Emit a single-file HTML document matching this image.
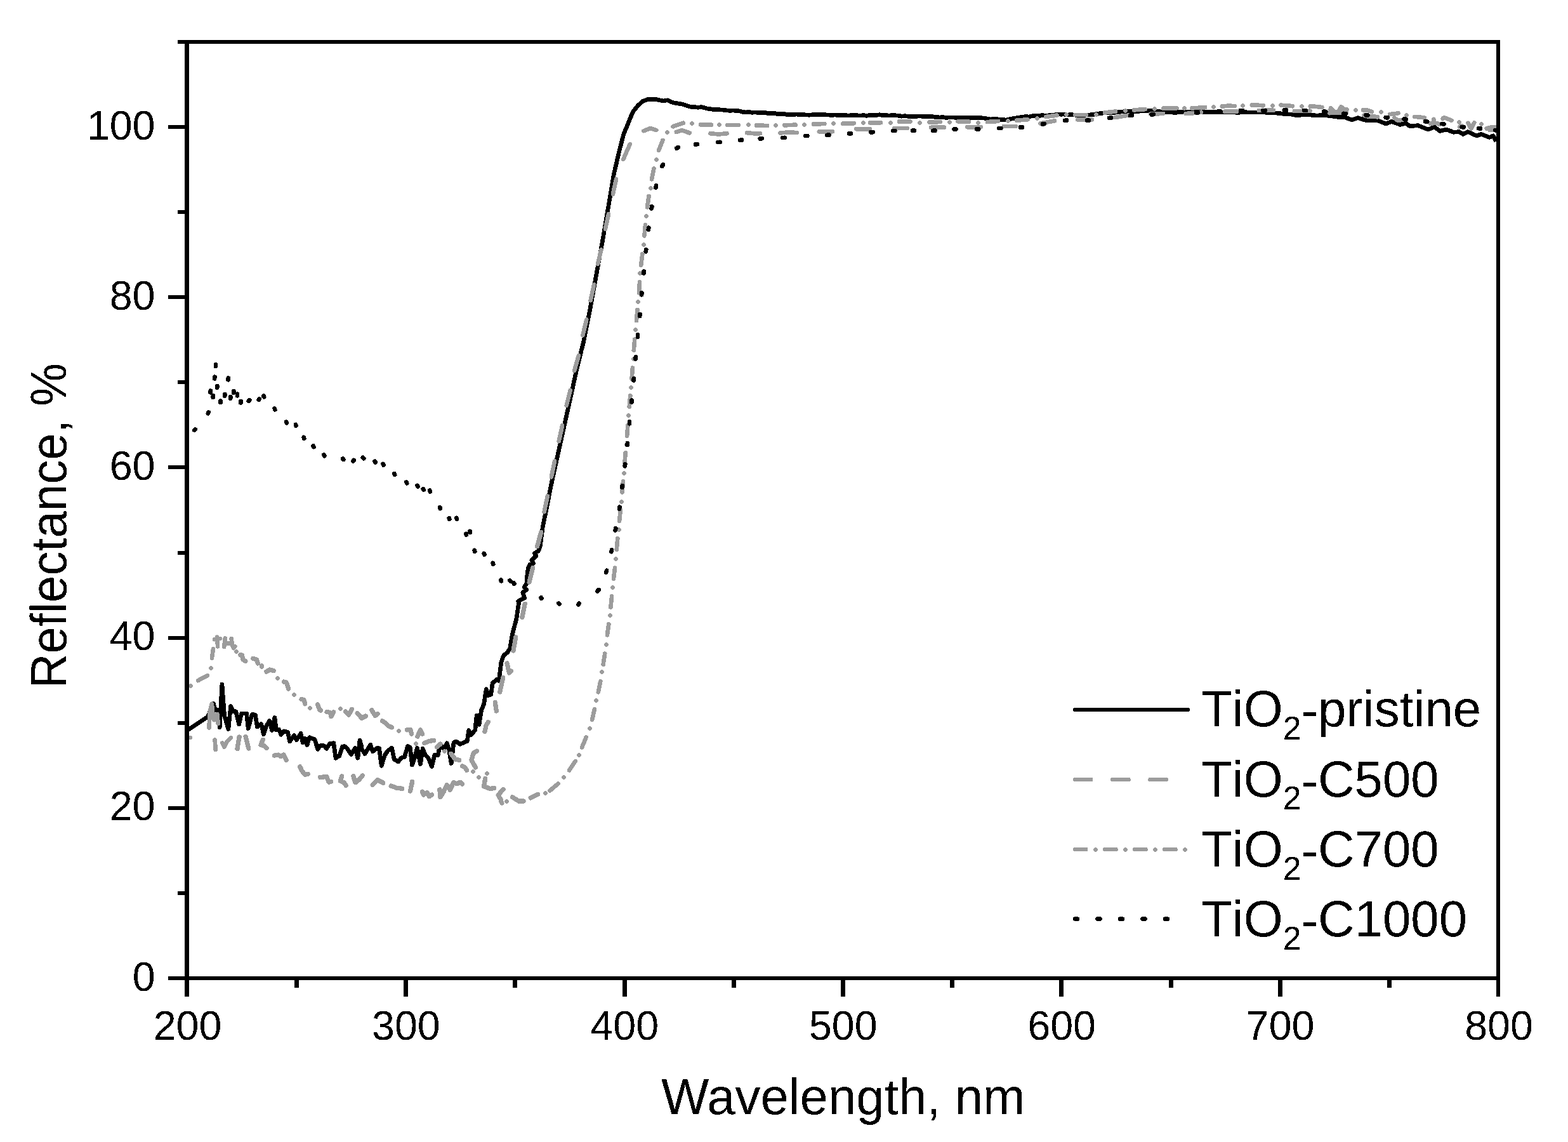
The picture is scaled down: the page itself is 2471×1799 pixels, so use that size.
<!DOCTYPE html>
<html lang="en"><head><meta charset="utf-8"><title>Reflectance spectra of TiO2 samples</title>
<style>html,body{margin:0;padding:0;background:#fff}svg{display:block}text{font-family:'Liberation Sans', Arial, Helvetica, sans-serif;fill:#000;font-kerning:none}</style></head><body>
<svg width="2471" height="1799" viewBox="0 0 2471 1799" role="img" aria-label="Reflectance spectra">
<rect x="0" y="0" width="2471" height="1799" fill="#fff"/>
<defs><filter id="bw" x="-5%" y="-20%" width="110%" height="140%" color-interpolation-filters="sRGB"><feComponentTransfer><feFuncA type="discrete" tableValues="0 1"/></feComponentTransfer></filter><clipPath id="plot"><rect x="298" y="69" width="2066" height="1469"/></clipPath></defs>
<!-- TiO2-pristine -->
<polyline shape-rendering="crispEdges" points="294.4,1151.1 298.1,1148.6 327.4,1129.2 331.2,1119.9 336.2,1108 339.3,1118.9 343,1118.1 344.9,1122.4 346.2,1145.5 349.9,1078.1 353.6,1127.3 359.9,1148.6 363.6,1112.4 368,1120.9 371.7,1120.8 376.7,1141.1 380.5,1124.2 388.6,1123.9 391.1,1147.4 397.3,1125.4 402.3,1126.1 405.4,1144.9 411.7,1140.5 415.4,1156.7 419.8,1143.6 424.8,1135.5 428.5,1150.5 432.9,1130.5 435.4,1150.1 439.7,1149.3 442.9,1157.3 447.2,1151.8 453.5,1153.5 456.6,1167.9 463.4,1158.6 467.2,1165.5 474,1155.4 477.2,1169.8 480.9,1163.6 484,1173.6 487.8,1161.7 495.9,1164.8 500.9,1180.4 504.6,1174.8 510.9,1174.8 514.6,1179.2 519.6,1171.6 525.8,1170.6 529,1194.2 534.6,1191 539.6,1176 543.3,1175.7 547,1179.1 553.3,1188.5 559.5,1178.5 563.9,1194.2 567,1166.1 570.1,1177.3 570,1180 575,1187.5 583.8,1173.2 587.5,1183.8 593.8,1178.8 597.5,1178.8 601.2,1206.3 606.2,1190 611.2,1182.5 617.5,1178.2 621.2,1196.2 627.5,1200 632.5,1193.8 637.5,1192.5 642.5,1175.4 646.2,1177.5 649.5,1205 653.8,1192.5 657.5,1178.2 662.5,1203.8 666.2,1179.4 670,1188.8 675,1193.8 680.5,1207.5 685,1189.2 690,1190.1 693.8,1173.2 700,1180 704.2,1170.7 707.5,1180 711.2,1202.5 715,1170 718.8,1167.9 725,1172.5 732.5,1168.8 736.2,1167.5 738.8,1150.7 742.5,1157.5 748.8,1150 751.2,1126.9 755,1141.3 758.8,1117.5 762.5,1110 766.2,1085.7 770,1095.5 773.8,1093.8 776.2,1076.2 782.5,1070.7 786.2,1072.5 790,1042.5 793.8,1032.5 800,1027.5 803.8,1021.2 807.5,998.8 813.8,975 817.5,950 816.6,947.1 826.6,942.1 823.8,933.3 829.8,929.2 826.1,925.2 829.8,918.9 830.7,907.7 832.3,895.1 834.8,889.5 840.4,887.4 837.9,882.6 845.1,875.7 842.4,871.6 848.2,868.2 851.1,861.3 853.3,845 855.1,831.3 860,807 870,757 880,712 890,667 900,622 908.8,582 916.2,552 920,537 930,486.5 940,431.5 950.5,374 959,324 967.5,274 976.2,236.5 982.8,211.5 990,194 997.2,176.5 1005,166.5 1013,159.5 1020,156.8 1032.5,156.2 1045,159 1052.5,157.8 1060,161.5 1075,164.1 1080,165.8 1085,167.4 1090,168.5 1095.1,168.7 1100.1,169.2 1105.1,168.6 1110.1,169.7 1115.1,171.2 1120.1,171.8 1125.1,172.5 1130.1,172.2 1135.2,172.9 1140.2,173.2 1145.2,173.9 1150.2,174.3 1155.2,174 1160.2,174.5 1165.2,174.9 1170.3,176.3 1175.3,176.9 1180.3,176.5 1185.3,177.3 1190.3,176.9 1195.3,177.6 1200.3,177.4 1205.4,177.4 1210.4,178.6 1215.4,178.3 1220.4,178.4 1225.4,179.5 1230.4,179.8 1235.4,179.5 1240.4,180.5 1245.5,180.4 1250.5,180.5 1255.5,180 1260.5,180.7 1265.5,180.6 1270.5,181 1275.5,181.2 1280.6,180.7 1285.6,180.8 1290.6,180.8 1295.6,180.8 1300.6,180.8 1305.6,181 1310.6,181.5 1315.6,180.9 1320.7,181.6 1325.7,181.4 1330.7,181.4 1335.7,182 1340.7,181.8 1345.7,181.6 1350.7,181.8 1355.8,182.1 1360.8,181.5 1365.8,182.4 1370.8,181.3 1375.8,181.6 1380.8,181.5 1385.8,180.7 1390.9,181.7 1395.9,181.6 1400.9,182 1405.9,181.7 1410.9,181.8 1415.9,182.2 1420.9,183.2 1425.9,182.6 1431,183.2 1436,183.6 1441,183.7 1446,183.1 1451,183.1 1456,183.3 1461,183.7 1466.1,183.1 1471.1,184 1476.1,184.5 1481.1,185 1486.1,184.4 1491.1,185.6 1496.1,184.9 1501.1,185 1506.2,185.3 1511.2,185.7 1516.2,185.2 1521.2,185.8 1526.2,185.7 1531.2,185.5 1536.2,185.6 1541.3,185.6 1546.3,185.7 1551.3,186.1 1556.3,187.1 1561.3,187.9 1566.3,187.4 1571.3,187.5 1576.4,188.8 1581.4,188.8 1586.4,188.9 1591.4,187.6 1596.4,186.7 1601.4,185.8 1606.4,184.9 1611.4,184.4 1616.5,183.5 1621.5,184 1626.5,182.8 1631.5,182.7 1636.5,182.8 1641.5,181.7 1646.5,181.9 1651.6,181.9 1656.6,181.2 1661.6,181 1666.6,179.9 1671.6,180.2 1676.6,180.1 1681.6,181 1686.6,180.7 1691.7,180.9 1696.7,181.5 1701.7,181.5 1706.7,181.6 1711.7,181.1 1716.7,181 1721.7,180.6 1726.8,179.8 1731.8,178.9 1736.8,178.3 1741.8,177.3 1746.8,177.2 1751.8,177.6 1756.8,177.3 1761.9,176.6 1766.9,176.1 1771.9,175.7 1776.9,175.2 1781.9,175.2 1786.9,175.6 1791.9,175.7 1796.9,174.9 1802,175.1 1807,174.9 1812,174.5 1817,174.2 1834,176.5 1866.5,176.2 1900,176.6 1912.5,176.3 1925,177.1 1937.6,176.6 1950.1,177.3 1962.6,176.8 1975.1,177.1 1987.7,176.6 2000.2,177.6 2012.7,178.2 2025.2,179.6 2035.2,180.1 2044,181.8 2054,180.6 2062.8,180.8 2075.3,182.1 2084,181.3 2096.5,182.6 2109,184.5 2120.3,185.1 2130.3,188.9 2140.3,185.7 2154.1,190.1 2171.7,190.1 2184.2,195.1 2192.9,191.4 2206.7,196.4 2215.5,193.9 2221.7,198.9 2234.3,197.6 2250.5,203.9 2260.6,200.1 2269.3,206.4 2279.3,203.9 2290.6,208.3 2299.4,207.6 2305.6,211.4 2313.2,207.6 2326.9,213.9 2334.4,211.4 2347,216.4 2353.2,213.9 2357.6,222.7" fill="none" stroke="#000" stroke-width="6.7" stroke-linejoin="round" stroke-linecap="butt" clip-path="url(#plot)"/>
<g shape-rendering="crispEdges" fill="none" stroke="#9c9c9c" stroke-width="6.7" stroke-linecap="round" stroke-linejoin="round" clip-path="url(#plot)">
<!-- TiO2-C500 -->
<polyline points="298.9,1162.1 299.8,1161.9"/>
<polyline points="329.6,1146.5 330.5,1122.6 333.8,1108.7 335.8,1128.9 337.1,1134.2 342.1,1133.6 342.4,1125.1 343.6,1139.7"/>
<polyline points="338.7,1165.6 339.6,1180.8"/>
<polyline points="350.3,1170.5 353.4,1176.6 357.4,1168.5 364,1162.2"/>
<polyline points="377.1,1161.1 375.5,1169.8 374,1179.7" stroke-width="7.3"/>
<polyline points="387,1160.4 389.8,1171 391.8,1179.1" stroke-width="7.3"/>
<polyline points="414.3,1165.4 411,1173.5 416,1174.8 420.1,1178.6" stroke-width="7.3"/>
<polyline points="432.3,1190.1 438.5,1189.1 442.2,1191.6 447.2,1189.1 451,1197.3" stroke-width="7.3"/>
<polyline points="472.7,1207.8 475.9,1214.7 480.9,1220.3 485.3,1219.3" stroke-width="7.3"/>
<polyline points="504.7,1224.5 514.6,1223.4 518.3,1232.2 521.5,1231.3" stroke-width="7.3"/>
<polyline points="538.6,1222.8 536.4,1230.3 542.1,1232.8 545.1,1237.3" stroke-width="7.3"/>
<polyline points="556.8,1222.8 560.1,1232.8 565.8,1228.4 571.2,1221.9" stroke-width="7.3"/>
<polyline points="587.2,1236.6 595,1228.8 603.8,1233.2" stroke-width="7.3"/>
<polyline points="616.2,1238 625,1241.2 633.7,1242.3" stroke-width="7.3"/>
<polyline points="649.7,1231.3 646.5,1246.2" stroke-width="7.3"/>
<polyline points="665.5,1247.1 667.3,1252.1 672.8,1248.4 676.6,1254.6 680.7,1252.1" stroke-width="7.3"/>
<polyline points="692.9,1243.9 694,1255.6 699,1247.4 704.3,1236.4 709.3,1244.6 714.6,1232.7 720.2,1234.7 725.2,1232.2 728.3,1235" stroke-width="7.3"/>
<polyline points="749.4,1208.9 743,1197.5 746.2,1186.2 751.4,1183.2" stroke-width="7.3"/>
<polyline points="764,1152.5 766.2,1142.5 769.3,1137.4" stroke-width="7.3"/>
<polyline points="780.2,1106.3 782.3,1120" stroke-width="7.3"/>
<polyline points="787.8,1090 792.7,1067.5" stroke-width="7.3"/>
<polyline points="799,1045 802.5,1060 805.3,1057.2" stroke-width="7.3"/>
<polyline points="809,1025 812.8,1003.8" stroke-width="7.3"/>
<polyline points="822.8,972.5 827.2,951.3" stroke-width="7.3"/>
<polyline points="834.1,917 839.7,894.5" stroke-width="7.3"/>
<polyline points="846.6,860.7 852.7,838.3" stroke-width="7.3"/>
<polyline points="857.7,806.2 862.8,781.5"/>
<polyline points="868.9,751.2 874.1,726.5"/>
<polyline points="880.7,695 886.1,670.3"/>
<polyline points="892.7,638.7 898.6,615.3"/>
<polyline points="905.2,583.7 911.8,560.3"/>
<polyline points="918.4,528.2 924.3,503.5"/>
<polyline points="930.7,473.2 936.1,448.5"/>
<polyline points="942.2,415.7 947.3,393.5"/>
<polyline points="953.9,360.7 959.1,337.3"/>
<polyline points="965.9,305.7 971.1,282.3"/>
<polyline points="982.3,250.8 992.7,227.2"/>
<polyline points="1014.5,206.2 1025,202 1034.2,205"/>
<polyline points="1065.8,208 1075,205.2 1086.7,209.5"/>
<polyline points="1119.5,210.3 1132.5,211.5 1145.5,210.3"/>
<polyline points="1177,209.1 1187.5,210.2 1198,210.2"/>
<polyline points="1229.5,209.4 1242.5,208.5 1255.5,209"/>
<polyline points="1290.8,207.2 1312,207.2"/>
<polyline points="1349.5,203.2 1370.7,203.2"/>
<polyline points="1409.5,202 1429.5,202"/>
<polyline points="1467,200.8 1488.2,200.8"/>
<polyline points="1524.5,200.2 1545.7,200.2"/>
<polyline points="1582,199 1600.7,199"/>
<polyline points="1639.5,194.4 1662,190.4"/>
<polyline points="1698.3,188.5 1720.7,188.5"/>
<polyline points="1757,185.1 1778.2,181.6"/>
<polyline points="1813.3,179.5 1833,179"/>
<polyline points="1929.9,175.7 1939.4,175.7 1949.3,175.4"/>
<polyline points="1983.7,174.1 1995.2,173.8 2006.9,173.8"/>
<polyline points="2039.8,175.1 2052.1,175.1 2064.5,174.8"/>
<polyline points="2095.5,178.2 2108.5,177.6 2122.1,177.6"/>
<polyline points="2149.2,181.6 2154.1,183.2 2162.9,183.2 2170.9,184.4"/>
<polyline points="2197.3,185.6 2203,190.1 2208.4,189"/>
<polyline points="2253.8,194.4 2264.3,193.9 2268.6,196"/>
<polyline points="2300.1,199.8 2303.7,198"/>
<polyline points="2347.8,205.1 2356.8,205.1"/>
<polyline points="1868.7,179 1880.2,178.2 1892.9,176.8"/>
<!-- TiO2-C700 -->
<circle cx="300.5" cy="1080.5" r="3.3" fill="#9c9c9c" stroke="none"/>
<polyline points="312,1072.1 326.8,1064.1"/>
<circle cx="332.5" cy="1052.5" r="3.3" fill="#9c9c9c" stroke="none"/>
<polyline points="333.9,1036.7 336.1,1022"/>
<circle cx="372.5" cy="1026.5" r="3.3" fill="#9c9c9c" stroke="none"/>
<circle cx="412.5" cy="1050.5" r="3.3" fill="#9c9c9c" stroke="none"/>
<polyline points="419.9,1058.1 425,1055 431.2,1056.7" stroke-width="7.3"/>
<circle cx="437.5" cy="1068.5" r="3.3" fill="#9c9c9c" stroke="none"/>
<polyline points="447.5,1074.1 451.2,1075 454.6,1085" stroke-width="7.3"/>
<circle cx="463.5" cy="1094.5" r="3.3" fill="#9c9c9c" stroke="none"/>
<polyline points="475,1101.6 478.8,1102.5 480.8,1108.8" stroke-width="7.3"/>
<circle cx="488.5" cy="1115.5" r="3.3" fill="#9c9c9c" stroke="none"/>
<polyline points="500.5,1110 503.8,1118 505.2,1119.2" stroke-width="7.3"/>
<polyline points="515,1121.5 520.5,1122.5 522,1128.8 525.7,1121.7" stroke-width="7.3"/>
<circle cx="536.5" cy="1116.5" r="3.3" fill="#9c9c9c" stroke="none"/>
<polyline points="544.6,1121 549.5,1126.2 554.4,1117.4" stroke-width="7.3"/>
<polyline points="563.3,1123.5 570,1131.2 576.3,1128.1" stroke-width="7.3"/>
<polyline points="585.7,1118.6 591.2,1127.5 595.2,1124.5" stroke-width="7.3"/>
<polyline points="602.4,1135.7 607.5,1138.8 612.5,1143.8 617.5,1145.8" stroke-width="7.3"/>
<circle cx="628.5" cy="1151.5" r="3.3" fill="#9c9c9c" stroke="none"/>
<polyline points="641.3,1149.9 647,1149.5 648.5,1156.2" stroke-width="7.3"/>
<polyline points="658,1160.1 662.5,1150 665.7,1156.3" stroke-width="7.3"/>
<circle cx="655.5" cy="1171.5" r="3.3" fill="#9c9c9c" stroke="none"/>
<polyline points="668.7,1170.7 676.2,1167.5 683.7,1166.4" stroke-width="7.3"/>
<polyline points="688.5,1176.7 694,1172.1" stroke-width="7.3"/>
<circle cx="700.5" cy="1183.5" r="3.3" fill="#9c9c9c" stroke="none"/>
<polyline points="710.8,1187.3 717.5,1196.2 723.7,1197.3" stroke-width="7.3"/>
<polyline points="728.7,1206.8 732.5,1208.8 735.5,1213.4" stroke-width="7.3"/>
<circle cx="745.5" cy="1215.5" r="3.3" fill="#9c9c9c" stroke="none"/>
<circle cx="754.5" cy="1224.5" r="3.3" fill="#9c9c9c" stroke="none"/>
<circle cx="767.5" cy="1218.5" r="3.3" fill="#9c9c9c" stroke="none"/>
<polyline points="764.8,1226.3 762.5,1238.8 772.5,1242.5 778.7,1241.5" stroke-width="7.3"/>
<polyline points="792.9,1243.5 785,1252.5 788.8,1258.8 790.8,1265" stroke-width="7.3"/>
<circle cx="798.5" cy="1262.5" r="3.3" fill="#9c9c9c" stroke="none"/>
<polyline points="807.4,1255.7 817.5,1262 825,1262" stroke-width="7.3"/>
<polyline points="836.2,1256.9 847.6,1251.3" stroke-width="7.3"/>
<polyline points="343.1,1018.3 342,1003.7"/>
<polyline points="337.9,1007.2 346.5,1006.1"/>
<polyline points="353.2,1019 354.8,1005.6"/>
<polyline points="355.9,1013.5 364.7,1013.2"/>
<polyline points="364.6,1006.2 366.1,1016.9 368.2,1021.1 370.3,1018.2"/>
<polyline points="378.9,1031.8 381.4,1032.1 382.9,1038.9 386.8,1041.6" stroke-width="7.3"/>
<polyline points="398.7,1037.3 404.2,1038.9 406.3,1044.9" stroke-width="7.3"/>
<circle cx="412.5" cy="1048.5" r="3.3" fill="#9c9c9c" stroke="none"/>
<circle cx="859.5" cy="1249.5" r="3.3" fill="#9c9c9c" stroke="none"/>
<polyline points="866.5,1245.6 879.7,1234.4"/>
<circle cx="888.5" cy="1224.5" r="3.3" fill="#9c9c9c" stroke="none"/>
<polyline points="897.1,1213.4 906.7,1199.1"/>
<circle cx="912.5" cy="1189.5" r="3.3" fill="#9c9c9c" stroke="none"/>
<polyline points="917,1177.4 923.7,1161.4"/>
<circle cx="929.5" cy="1147.5" r="3.3" fill="#9c9c9c" stroke="none"/>
<polyline points="933.1,1134.1 936.9,1117.2"/>
<circle cx="939.5" cy="1103.5" r="3.3" fill="#9c9c9c" stroke="none"/>
<polyline points="942.8,1090.4 946.2,1073.4"/>
<circle cx="948.5" cy="1058.5" r="3.3" fill="#9c9c9c" stroke="none"/>
<polyline points="950.6,1046.7 953.2,1029.6"/>
<circle cx="955.5" cy="1015.5" r="3.3" fill="#9c9c9c" stroke="none"/>
<polyline points="956.9,1000.4 959.3,983.3"/>
<circle cx="961.5" cy="969.5" r="3.3" fill="#9c9c9c" stroke="none"/>
<polyline points="962.4,956.6 964.1,939.4"/>
<circle cx="965.5" cy="925.5" r="3.3" fill="#9c9c9c" stroke="none"/>
<polyline points="967,911.8 969,894.7"/>
<circle cx="970.5" cy="880.5" r="3.3" fill="#9c9c9c" stroke="none"/>
<polyline points="971.7,865.6 973.3,848.4"/>
<circle cx="975.5" cy="834.5" r="3.3" fill="#9c9c9c" stroke="none"/>
<polyline points="976.1,820.6 977.9,803.4"/>
<circle cx="979.5" cy="790.5" r="3.3" fill="#9c9c9c" stroke="none"/>
<polyline points="980.5,775.6 982,758.4"/>
<circle cx="983.5" cy="745.5" r="3.3" fill="#9c9c9c" stroke="none"/>
<polyline points="984.3,730.6 985.7,713.4"/>
<circle cx="987.5" cy="700.5" r="3.3" fill="#9c9c9c" stroke="none"/>
<polyline points="988.1,686.9 989.4,669.6"/>
<circle cx="990.5" cy="654.5" r="3.3" fill="#9c9c9c" stroke="none"/>
<polyline points="991.7,640.6 993.3,623.4"/>
<circle cx="994.5" cy="610.5" r="3.3" fill="#9c9c9c" stroke="none"/>
<polyline points="995.6,596.9 996.9,579.6"/>
<circle cx="998.5" cy="565.5" r="3.3" fill="#9c9c9c" stroke="none"/>
<polyline points="998.8,551.9 1000.2,534.6"/>
<circle cx="1001.5" cy="519.5" r="3.3" fill="#9c9c9c" stroke="none"/>
<polyline points="1003,505.1 1004.5,487.9"/>
<circle cx="1005.5" cy="475.5" r="3.3" fill="#9c9c9c" stroke="none"/>
<polyline points="1006.9,461.4 1008.1,444.1"/>
<circle cx="1008.5" cy="430.5" r="3.3" fill="#9c9c9c" stroke="none"/>
<polyline points="1010.2,417.6 1012.3,400.4"/>
<circle cx="1014.5" cy="385.5" r="3.3" fill="#9c9c9c" stroke="none"/>
<polyline points="1015.4,371.4 1017.1,354.1"/>
<circle cx="1018.5" cy="340.5" r="3.3" fill="#9c9c9c" stroke="none"/>
<polyline points="1020,326.3 1022.5,309.2"/>
<circle cx="1025.5" cy="296.5" r="3.3" fill="#9c9c9c" stroke="none"/>
<polyline points="1027,282.5 1030.5,265.5"/>
<circle cx="1034.5" cy="251.5" r="3.3" fill="#9c9c9c" stroke="none"/>
<polyline points="1038.1,237 1044.4,221"/>
<circle cx="1051.5" cy="208.5" r="3.3" fill="#9c9c9c" stroke="none"/>
<polyline points="1060.6,199.3 1076.9,193.7"/>
<circle cx="1090.5" cy="194.5" r="3.3" fill="#9c9c9c" stroke="none"/>
<polyline points="1103.9,196.3 1121.1,196.7"/>
<circle cx="1133.5" cy="196.5" r="3.3" fill="#9c9c9c" stroke="none"/>
<polyline points="1146.4,196.9 1163.6,197.1"/>
<circle cx="1179.5" cy="196.5" r="3.3" fill="#9c9c9c" stroke="none"/>
<polyline points="1191.9,197.5 1209.1,198"/>
<circle cx="1222.5" cy="197.5" r="3.3" fill="#9c9c9c" stroke="none"/>
<polyline points="1236.4,197.3 1253.6,196.7"/>
<circle cx="1267.5" cy="196.5" r="3.3" fill="#9c9c9c" stroke="none"/>
<polyline points="1282.1,195.5 1299.4,195"/>
<circle cx="1313.5" cy="194.5" r="3.3" fill="#9c9c9c" stroke="none"/>
<polyline points="1328.4,194.7 1345.6,194.3"/>
<circle cx="1360.5" cy="193.5" r="3.3" fill="#9c9c9c" stroke="none"/>
<polyline points="1370.9,193.3 1388.1,193.2"/>
<circle cx="1403.5" cy="193.5" r="3.3" fill="#9c9c9c" stroke="none"/>
<polyline points="1417.1,191.5 1434.4,191.5"/>
<circle cx="1449.5" cy="193.5" r="3.3" fill="#9c9c9c" stroke="none"/>
<polyline points="1464.6,192.4 1481.9,192.1"/>
<circle cx="1496.5" cy="192.5" r="3.3" fill="#9c9c9c" stroke="none"/>
<polyline points="1509.6,191.3 1526.9,191.7"/>
<circle cx="1541.5" cy="193.5" r="3.3" fill="#9c9c9c" stroke="none"/>
<polyline points="1555.9,192.1 1573.1,190.9"/>
<circle cx="1588.5" cy="190.5" r="3.3" fill="#9c9c9c" stroke="none"/>
<polyline points="1602.1,189.7 1619.4,188.3"/>
<circle cx="1634.5" cy="186.5" r="3.3" fill="#9c9c9c" stroke="none"/>
<polyline points="1648.4,183.9 1665.6,181.6"/>
<circle cx="1680.5" cy="180.5" r="3.3" fill="#9c9c9c" stroke="none"/>
<polyline points="1694.6,181 1711.9,181"/>
<circle cx="1727.5" cy="180.5" r="3.3" fill="#9c9c9c" stroke="none"/>
<polyline points="1740.9,177.5 1758.1,175.5"/>
<circle cx="1773.5" cy="174.5" r="3.3" fill="#9c9c9c" stroke="none"/>
<polyline points="1787.1,173.4 1804.4,172.1"/>
<circle cx="1819.5" cy="171.5" r="3.3" fill="#9c9c9c" stroke="none"/>
<polyline points="1833.4,170.7 1843.9,170.7 1854.4,170.3"/>
<circle cx="1866.5" cy="170.5" r="3.3" fill="#9c9c9c" stroke="none"/>
<polyline points="1878.5,170.3 1889,169.8 1899.2,169.1"/>
<circle cx="1912.5" cy="168.5" r="3.3" fill="#9c9c9c" stroke="none"/>
<polyline points="1925.8,167.5 1935.7,166.6 1945.5,167.1"/>
<circle cx="1958.5" cy="166.5" r="3.3" fill="#9c9c9c" stroke="none"/>
<polyline points="1972.8,165.5 1981.4,165.7 1990.6,166.3"/>
<circle cx="2005.5" cy="166.5" r="3.3" fill="#9c9c9c" stroke="none"/>
<polyline points="2018.5,165.7 2027.7,166.3 2036.9,167.2"/>
<circle cx="2051.5" cy="167.5" r="3.3" fill="#9c9c9c" stroke="none"/>
<polyline points="2064.8,167.6 2074.1,167.9 2083.3,169"/>
<polyline points="2096,177.4 2097.1,170.1 2102.8,176.3 2108.4,177 2113.4,168.2 2118.4,172.6 2122.6,172.6"/>
<circle cx="2136.5" cy="173.5" r="3.3" fill="#9c9c9c" stroke="none"/>
<polyline points="2148,173.3 2155.4,173.8 2162.1,176.1"/>
<circle cx="2176.5" cy="176.5" r="3.3" fill="#9c9c9c" stroke="none"/>
<polyline points="2190,180 2196.7,179.5 2203.4,178.3"/>
<circle cx="2216.5" cy="181.5" r="3.3" fill="#9c9c9c" stroke="none"/>
<polyline points="2229.4,183.9 2238,184.5 2244.7,185.6"/>
<polyline points="2259.3,187.8 2259.3,191.2"/>
<polyline points="2273.6,187 2275.6,185.1 2281.8,187.6 2287.4,189.8"/>
<circle cx="2299.5" cy="192.5" r="3.3" fill="#9c9c9c" stroke="none"/>
<polyline points="2313.5,193.9 2318.2,202.6 2323.4,193.3"/>
<circle cx="2334.5" cy="195.5" r="3.3" fill="#9c9c9c" stroke="none"/>
<polyline points="2342.7,202.4 2349.5,200.7 2356.8,200.7"/>
</g>
<!-- TiO2-C1000 -->
<g shape-rendering="crispEdges" fill="none" stroke="#000" stroke-width="6.8" stroke-linecap="round" clip-path="url(#plot)">
<line x1="306.4" y1="677.7" x2="307.6" y2="676.3"/>
<line x1="327.9" y1="651.1" x2="328.6" y2="649.4"/>
<line x1="331.6" y1="618.3" x2="331.9" y2="615.7"/>
<line x1="335.6" y1="625.8" x2="335.9" y2="623.2"/>
<line x1="338.1" y1="596.3" x2="338.4" y2="593.7"/>
<line x1="339.9" y1="577" x2="340.1" y2="574.5"/>
<line x1="342.1" y1="610.8" x2="342.4" y2="608.2"/>
<line x1="347.4" y1="634" x2="347.6" y2="631.5"/>
<line x1="354.1" y1="623.8" x2="354.4" y2="621.2"/>
<line x1="359.6" y1="598.3" x2="359.9" y2="595.7"/>
<line x1="363.1" y1="627.8" x2="363.4" y2="625.2"/>
<line x1="368.1" y1="618.8" x2="368.4" y2="616.2"/>
<line x1="373.9" y1="623.3" x2="374.1" y2="620.7"/>
<line x1="379.4" y1="634.5" x2="379.6" y2="632"/>
<line x1="391.9" y1="631.7" x2="393.1" y2="630.3"/>
<line x1="407.8" y1="630" x2="408.7" y2="628.5"/>
<line x1="415.4" y1="623.7" x2="416.1" y2="625.3"/>
<line x1="432.8" y1="643.6" x2="433.2" y2="645.4"/>
<line x1="451.2" y1="664.7" x2="451.8" y2="666.3"/>
<line x1="466" y1="668.9" x2="466.5" y2="670.6"/>
<line x1="478.8" y1="688.9" x2="479.2" y2="690.6"/>
<line x1="493.7" y1="702.4" x2="494.3" y2="704.1"/>
<line x1="510.3" y1="716.4" x2="511.2" y2="718.1"/>
<line x1="540.2" y1="722.5" x2="541.3" y2="724"/>
<line x1="556.4" y1="726.4" x2="557.6" y2="725.1"/>
<line x1="571.9" y1="720.8" x2="573.1" y2="722.2"/>
<line x1="590.8" y1="726.7" x2="591.7" y2="728.3"/>
<line x1="603.7" y1="730.9" x2="604.3" y2="732.6"/>
<line x1="621.4" y1="746.2" x2="622.1" y2="747.8"/>
<line x1="640.4" y1="759.4" x2="641.1" y2="761.1"/>
<line x1="657.6" y1="765" x2="658.4" y2="766.5"/>
<line x1="666.8" y1="770" x2="667.7" y2="771.5"/>
<line x1="677.3" y1="772.6" x2="677.7" y2="774.4"/>
<line x1="693.3" y1="799.4" x2="693.7" y2="801.1"/>
<line x1="707.7" y1="816.2" x2="708.3" y2="817.8"/>
<line x1="719.5" y1="815.9" x2="720" y2="817.6"/>
<line x1="734.2" y1="840.9" x2="734.8" y2="842.6"/>
<line x1="740.4" y1="836.9" x2="740.6" y2="838.6"/>
<line x1="747.8" y1="866.9" x2="748.2" y2="868.6"/>
<line x1="762.7" y1="871.9" x2="763.3" y2="873.6"/>
<line x1="776.8" y1="886.9" x2="777.2" y2="888.6"/>
<line x1="789.5" y1="913.6" x2="790" y2="915.4"/>
<line x1="803.5" y1="914.3" x2="804.5" y2="915.7"/>
<line x1="809.6" y1="918.2" x2="810.4" y2="919.8"/>
<line x1="852.6" y1="941.2" x2="853.4" y2="942.8"/>
<line x1="880.5" y1="950.3" x2="881.5" y2="951.7"/>
<line x1="911.5" y1="952.3" x2="912.5" y2="950.7"/>
<line x1="941.5" y1="931.4" x2="943.5" y2="929.1"/>
<line x1="955" y1="901.7" x2="956" y2="898.8"/>
<line x1="963.4" y1="869.2" x2="964.1" y2="866.3"/>
<line x1="969.7" y1="835.5" x2="970.3" y2="832.5"/>
<line x1="976" y1="801.7" x2="976.5" y2="798.8"/>
<line x1="980.3" y1="768" x2="980.7" y2="765"/>
<line x1="984.8" y1="734.2" x2="985.2" y2="731.3"/>
<line x1="988.6" y1="701" x2="988.9" y2="698"/>
<line x1="991.9" y1="667.2" x2="992.1" y2="664.3"/>
<line x1="995.4" y1="633.5" x2="995.6" y2="630.5"/>
<line x1="998.6" y1="599.2" x2="998.9" y2="596.3"/>
<line x1="1001.6" y1="565.5" x2="1001.9" y2="562.5"/>
<line x1="1004.9" y1="530.5" x2="1005.1" y2="527.5"/>
<line x1="1008.1" y1="498" x2="1008.4" y2="495"/>
<line x1="1011.1" y1="464.2" x2="1011.4" y2="461.3"/>
<line x1="1014.4" y1="430.5" x2="1014.6" y2="427.5"/>
<line x1="1017.8" y1="396.2" x2="1018.2" y2="393.3"/>
<line x1="1021.8" y1="361.7" x2="1022.2" y2="358.8"/>
<line x1="1026.7" y1="328.5" x2="1027.3" y2="325.5"/>
<line x1="1033.4" y1="295.5" x2="1034.1" y2="292.5"/>
<line x1="1043.5" y1="261.8" x2="1045" y2="259.2"/>
<line x1="1066.2" y1="233.5" x2="1068.8" y2="232"/>
<line x1="1096" y1="227.4" x2="1099" y2="227.1"/>
<line x1="1131.5" y1="224.1" x2="1134.5" y2="223.9"/>
<line x1="1166" y1="220.9" x2="1169" y2="220.6"/>
<line x1="1197.8" y1="218.3" x2="1200.7" y2="218.2"/>
<line x1="1233.5" y1="217.1" x2="1236.5" y2="216.9"/>
<line x1="1269.3" y1="214.1" x2="1272.2" y2="213.9"/>
<line x1="1303.5" y1="212.8" x2="1306.5" y2="212.7"/>
<line x1="1338" y1="210.3" x2="1341" y2="210.2"/>
<line x1="1372.5" y1="208.3" x2="1375.5" y2="208.2"/>
<line x1="1407.3" y1="206.1" x2="1410.2" y2="205.9"/>
<line x1="1438" y1="205.8" x2="1441" y2="205.7"/>
<line x1="1470.5" y1="205.8" x2="1473.5" y2="205.7"/>
<line x1="1503.5" y1="203.5" x2="1506.5" y2="203.5"/>
<line x1="1539.3" y1="203.5" x2="1542.2" y2="203.5"/>
<line x1="1574.3" y1="202.1" x2="1577.2" y2="201.9"/>
<line x1="1608" y1="200.6" x2="1611" y2="200.4"/>
<line x1="1643" y1="195.5" x2="1646" y2="195"/>
<line x1="1678" y1="189.9" x2="1681" y2="189.6"/>
<line x1="1713" y1="189.8" x2="1716" y2="189.7"/>
<line x1="1748" y1="185.9" x2="1751" y2="185.6"/>
<line x1="1781" y1="182.1" x2="1784" y2="181.9"/>
<line x1="1814.8" y1="180.3" x2="1817.7" y2="180.2"/>
<line x1="1850" y1="177.8" x2="1853" y2="177.7"/>
<line x1="1885" y1="177.3" x2="1888" y2="177.2"/>
<line x1="1920" y1="175.6" x2="1923" y2="175.4"/>
<line x1="1955" y1="174" x2="1958" y2="174"/>
<line x1="1990.5" y1="174" x2="1993.5" y2="174"/>
<line x1="2023.8" y1="173.5" x2="2026.8" y2="173.5"/>
<line x1="2055" y1="173.9" x2="2058" y2="174.1"/>
<line x1="2086.3" y1="175.6" x2="2089.2" y2="175.9"/>
<line x1="2117.5" y1="178.9" x2="2120.5" y2="179.1"/>
<line x1="2152.5" y1="181.4" x2="2155.5" y2="181.6"/>
<line x1="2183.8" y1="185.1" x2="2186.7" y2="185.4"/>
<line x1="2212.5" y1="187.6" x2="2215.5" y2="187.9"/>
<line x1="2246.3" y1="191.3" x2="2249.2" y2="191.7"/>
<line x1="2272.5" y1="195" x2="2275.5" y2="195.5"/>
<line x1="2303.8" y1="200.1" x2="2306.7" y2="200.4"/>
<line x1="2330" y1="202.1" x2="2333" y2="202.4"/>
<line x1="2356.3" y1="205.1" x2="2359.2" y2="205.4"/>
</g>
<g fill="#000" shape-rendering="crispEdges">
<rect x="291" y="63" width="7" height="1481"/>
<rect x="2358" y="63" width="6" height="1481"/>
<rect x="291" y="63" width="2073" height="6"/>
<rect x="291" y="1538" width="2073" height="6"/>
<rect x="291" y="1541" width="7" height="29"/>
<rect x="464" y="1541" width="7" height="15"/>
<rect x="636" y="1541" width="7" height="29"/>
<rect x="808" y="1541" width="7" height="15"/>
<rect x="981" y="1541" width="7" height="29"/>
<rect x="1153" y="1541" width="7" height="15"/>
<rect x="1325" y="1541" width="7" height="29"/>
<rect x="1497" y="1541" width="7" height="15"/>
<rect x="1669" y="1541" width="7" height="29"/>
<rect x="1842" y="1541" width="7" height="15"/>
<rect x="2014" y="1541" width="7" height="29"/>
<rect x="2186" y="1541" width="7" height="15"/>
<rect x="2358" y="1541" width="6" height="29"/>
<rect x="265" y="1538" width="29" height="6"/>
<rect x="280" y="1404" width="14" height="6"/>
<rect x="265" y="1270" width="29" height="6"/>
<rect x="280" y="1136" width="14" height="6"/>
<rect x="265" y="1002" width="29" height="6"/>
<rect x="280" y="868" width="14" height="6"/>
<rect x="265" y="733" width="29" height="6"/>
<rect x="280" y="599" width="14" height="6"/>
<rect x="265" y="465" width="29" height="6"/>
<rect x="280" y="331" width="14" height="6"/>
<rect x="265" y="197" width="29" height="6"/>
<rect x="280" y="63" width="14" height="6"/>
</g>
<g font-size="64.5" text-anchor="middle" filter="url(#bw)">
<text x="295.5" y="1638">200</text>
<text x="639.9" y="1638">300</text>
<text x="984.3" y="1638">400</text>
<text x="1328.8" y="1638">500</text>
<text x="1673.2" y="1638">600</text>
<text x="2017.6" y="1638">700</text>
<text x="2362" y="1638">800</text>
</g>
<g font-size="64.5" text-anchor="end" filter="url(#bw)">
<text x="244.5" y="1560.6">0</text>
<text x="244.5" y="1292.4">20</text>
<text x="244.5" y="1024.2">40</text>
<text x="244.5" y="756.1">60</text>
<text x="244.5" y="487.9">80</text>
<text x="244.5" y="219.7">100</text>
</g>
<text filter="url(#bw)" x="1042" y="1755" dx="0 -3.1" font-size="79.8">Wavelength, nm</text>
<text filter="url(#bw)" transform="translate(104.4 828.4) rotate(-90) scale(0.955 1)" font-size="79.8" text-anchor="middle">Reflectance, %</text>
<g shape-rendering="crispEdges" fill="none" stroke-width="6.5" stroke-linecap="round">
<line x1="1694.2" y1="1118" x2="1871.8" y2="1118" stroke="#000"/>
<line x1="1694.2" y1="1228" x2="1719.3" y2="1228" stroke="#9c9c9c"/>
<line x1="1753.3" y1="1228" x2="1778.5" y2="1228" stroke="#9c9c9c"/>
<line x1="1812.5" y1="1228" x2="1837.7" y2="1228" stroke="#9c9c9c"/>
<line x1="1694.2" y1="1338" x2="1711.3" y2="1338" stroke="#9c9c9c"/>
<line x1="1741.2" y1="1338" x2="1758.5" y2="1338" stroke="#9c9c9c"/>
<line x1="1788.3" y1="1338" x2="1805.5" y2="1338" stroke="#9c9c9c"/>
<line x1="1835.3" y1="1338" x2="1852.5" y2="1338" stroke="#9c9c9c"/>
<line x1="1694.2" y1="1447.5" x2="1698" y2="1447.5" stroke="#000"/>
<line x1="1729.5" y1="1447.5" x2="1733.5" y2="1447.5" stroke="#000"/>
<line x1="1765" y1="1447.5" x2="1769" y2="1447.5" stroke="#000"/>
<line x1="1800.5" y1="1447.5" x2="1804.5" y2="1447.5" stroke="#000"/>
<line x1="1836" y1="1447.5" x2="1840" y2="1447.5" stroke="#000"/>
</g>
<circle cx="1726.5" cy="1338.5" r="3.3" fill="#9c9c9c" shape-rendering="crispEdges"/>
<circle cx="1773.5" cy="1338.5" r="3.3" fill="#9c9c9c" shape-rendering="crispEdges"/>
<circle cx="1820.5" cy="1338.5" r="3.3" fill="#9c9c9c" shape-rendering="crispEdges"/>
<circle cx="1867.5" cy="1338.5" r="3.3" fill="#9c9c9c" shape-rendering="crispEdges"/>
<g font-size="79.8" filter="url(#bw)">
<text x="1893.2" y="1144.2">TiO<tspan font-size="51.5" dy="20.5">2</tspan><tspan dy="-18.4 -2.1">-pristine</tspan></text>
<text x="1893.2" y="1254.8">TiO<tspan font-size="51.5" dy="20.5">2</tspan><tspan dy="-18.4 -2.1">-C500</tspan></text>
<text x="1893.2" y="1365">TiO<tspan font-size="51.5" dy="20.5">2</tspan><tspan dy="-18.4 -2.1">-C700</tspan></text>
<text x="1893.2" y="1475">TiO<tspan font-size="51.5" dy="20.5">2</tspan><tspan dy="-18.4 -2.1">-C1000</tspan></text>
</g>
</svg></body></html>
